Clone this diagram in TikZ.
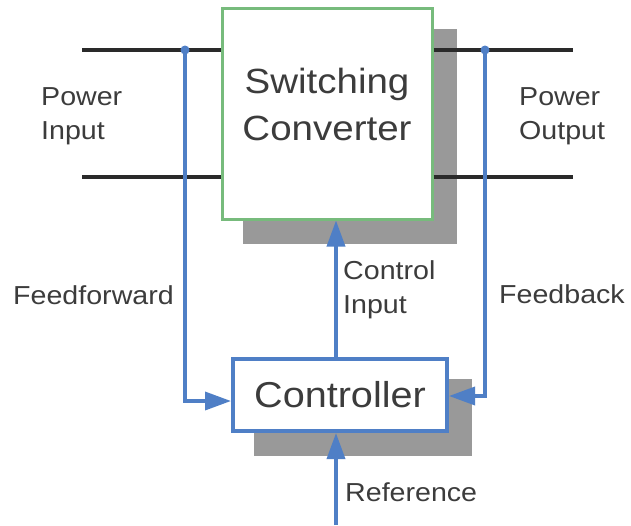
\documentclass[tikz,border=0pt]{standalone}
\usepackage{fontspec}
\setmainfont[FakeStretch=1.1]{Liberation Sans}
\usetikzlibrary{arrows.meta,backgrounds,calc}
\definecolor{sigblue}{HTML}{4F7FC6}
\definecolor{boxgreen}{HTML}{77BB7C}
\definecolor{shadowgray}{HTML}{999999}
\definecolor{wireblack}{HTML}{2A2A2A}
\definecolor{txtgray}{HTML}{3C3C3C}
\tikzset{
  convbox/.style={draw=boxgreen, line width=3pt, fill=white, minimum width=210pt, minimum height=211pt, inner sep=0pt},
  ctrlbox/.style={draw=sigblue, line width=4pt, fill=white, minimum width=214pt, minimum height=72pt, inner sep=0pt,
    text=txtgray, font=\fontsize{36}{40}\selectfont},
  bigtext/.style={text=txtgray, align=center, inner sep=0pt, font=\fontsize{35}{47}\selectfont},
  lbl/.style={text=txtgray, align=left, anchor=west, inner sep=0pt, font=\fontsize{26}{34}\selectfont},
  wire/.style={draw=wireblack, line width=3.5pt},
  sig/.style={draw=sigblue, line width=3.5pt},
  sigarrow/.style={sig, -{Triangle[length=26pt,width=18pt]}},
  dotnode/.style={circle, fill=sigblue, inner sep=0pt, minimum size=9pt},
  shadowfill/.style={fill=shadowgray}
}
\begin{document}
\begin{tikzpicture}[x=1pt,y=-1pt]
\useasboundingbox (0,0) rectangle (631,525);

% boxes
\node[convbox] (conv) at (327,113.5) {};
\node[bigtext] (convtext) at (327,104) {Switching\\Converter};
\node[ctrlbox] (ctrl) at (340,395) {Controller};

\begin{scope}[on background layer]
  \fill[white] (0,0) rectangle (631,525);
  \fill[shadowfill] ($(conv.north west)+(22,22)$) rectangle ($(conv.south east)+(23,23)$);
  \fill[shadowfill] ($(ctrl.north west)+(23,22)$) rectangle ($(ctrl.south east)+(23,23)$);
\end{scope}

% power wires
\coordinate (inTop) at (82,50);
\coordinate (inBot) at (82,177);
\coordinate (outTop) at (573,50);
\coordinate (outBot) at (573,177);
\draw[wire] (inTop) -- (inTop -| conv.west);
\draw[wire] (inBot) -- (inBot -| conv.west);
\draw[wire] (outTop -| conv.east) -- (outTop);
\draw[wire] (outBot -| conv.east) -- (outBot);

% feedforward and feedback
\coordinate (ffdot) at (185,50);
\coordinate (fbdot) at (485,50);
\draw[sigarrow] (ffdot) |- ([yshift=-6pt]ctrl.west);
\draw[sigarrow] (fbdot) |- ([yshift=-1pt]ctrl.east);
\node[dotnode] (ffjunction) at (ffdot) {};
\node[dotnode] (fbjunction) at (fbdot) {};

% control input and reference
\coordinate (ctrlx) at (336,0);
\coordinate (refend) at (336,525);
\draw[sigarrow] (ctrl.north -| ctrlx) -- (conv.south -| ctrlx);
\draw[sigarrow] (refend) -- (ctrl.south -| refend);

% labels
\node[lbl] (pin) at (41,116) {Power\\Input};
\node[lbl] (pout) at (519,116) {Power\\Output};
\node[lbl] (ff) at (13,295) {Feedforward};
\node[lbl] (ci) at (343,290) {Control\\Input};
\node[lbl] (fb) at (499,294) {Feedback};
\node[lbl] (ref) at (345,492) {Reference};
\end{tikzpicture}
\end{document}
